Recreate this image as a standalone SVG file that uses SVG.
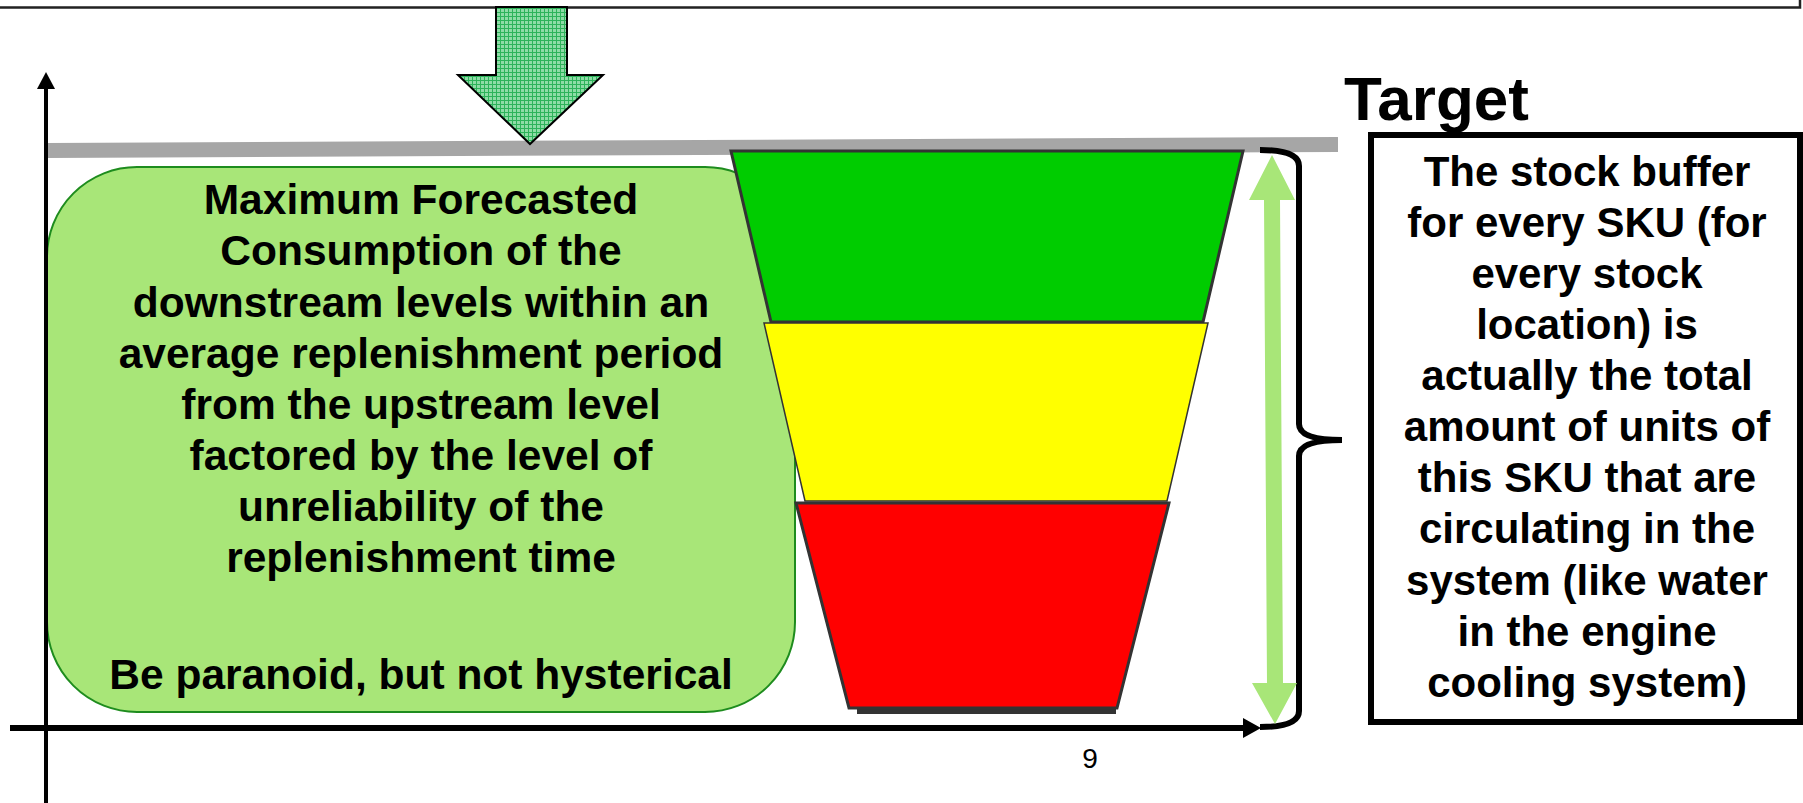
<svg xmlns="http://www.w3.org/2000/svg" width="1803" height="803" viewBox="0 0 1803 803">
<style>
.bt{font-family:"Liberation Sans",Arial,sans-serif;font-weight:bold;font-size:42.5px;fill:#000;text-anchor:middle}
.rt{font-family:"Liberation Sans",Arial,sans-serif;font-weight:bold;font-size:42px;fill:#000;text-anchor:middle}
.axis{stroke:#000;fill:none}
.seg{stroke:#333;stroke-width:3;stroke-linejoin:miter}
</style>
<defs>
<pattern id="hatch" width="4" height="4" patternUnits="userSpaceOnUse">
<rect width="4" height="4" fill="#8EDCA6"/>
<rect width="4" height="1" fill="#2DB35A"/>
<rect width="1" height="4" fill="#2DB35A"/>
</pattern>
</defs>
<rect width="1803" height="803" fill="#fff"/>
<polyline points="0,7.5 1800,7.5 1800,0" fill="none" stroke="#222" stroke-width="2.5"/>
<line x1="47" y1="150.5" x2="1338" y2="144.5" stroke="#A6A6A6" stroke-width="15"/>
<g id="forecast-box">
<rect x="47" y="167" width="748" height="545" rx="90" ry="90" fill="#A8E678" stroke="#1E8C1E" stroke-width="2"/>
<text class="bt" x="421" y="214">Maximum Forecasted</text>
<text class="bt" x="421" y="265">Consumption of the</text>
<text class="bt" x="421" y="317">downstream levels within an</text>
<text class="bt" x="421" y="368">average replenishment period</text>
<text class="bt" x="421" y="419">from the upstream level</text>
<text class="bt" x="421" y="470">factored by the level of</text>
<text class="bt" x="421" y="521">unreliability of the</text>
<text class="bt" x="421" y="572">replenishment time</text>
<text class="bt" x="421" y="689">Be paranoid, but not hysterical</text>
</g>
<g id="buffer-funnel">
<line x1="857" y1="711" x2="1116" y2="711" stroke="#333" stroke-width="6"/>
<polygon class="seg" points="731,151 1243,151 1203,322 771,322" fill="#00CC00"/>
<polygon points="764,323 1208,323 1167,501 805,501" fill="#FFFF00" stroke="#333" stroke-width="1.5"/>
<polygon class="seg" points="796,503 1169,503 1117,708 849,708" fill="#FF0000"/>
</g>
<g id="target-label">
<text x="1344" y="120" font-family="'Liberation Sans',Arial,sans-serif" font-weight="bold" font-size="62">Target</text>
</g>
<g id="target-box">
<rect x="1371" y="135" width="429" height="587" fill="#fff" stroke="#000" stroke-width="6"/>
<text class="rt" x="1587" y="186">The stock buffer</text>
<text class="rt" x="1587" y="237">for every SKU (for</text>
<text class="rt" x="1587" y="288">every stock</text>
<text class="rt" x="1587" y="339">location) is</text>
<text class="rt" x="1587" y="390">actually the total</text>
<text class="rt" x="1587" y="441">amount of units of</text>
<text class="rt" x="1587" y="492">this SKU that are</text>
<text class="rt" x="1587" y="543">circulating in the</text>
<text class="rt" x="1587" y="595">system (like water</text>
<text class="rt" x="1587" y="646">in the engine</text>
<text class="rt" x="1587" y="697">cooling system)</text>
</g>
<g id="brace">
<path d="M1260,150 Q1299,150 1299,166 L1299,424 Q1299,440 1342,440 Q1299,440 1299,456 L1299,711 Q1299,727 1260,727" fill="none" stroke="#000" stroke-width="6"/>
</g>
<g id="page-number">
<text x="1090" y="768" font-family="'Liberation Sans',Arial,sans-serif" font-size="28" text-anchor="middle">9</text>
</g>
<g id="connectors">
<line class="axis" x1="46" y1="803" x2="46" y2="86" stroke-width="4"/>
<polygon points="46,72 55,89 37,89" fill="#000"/>
<line class="axis" x1="10" y1="728" x2="1246" y2="728" stroke-width="6"/>
<polygon points="1261,728 1243,718 1243,738" fill="#000"/>
<polygon points="496,7 567,7 567,75 603,75 530,144 458,75 496,75" fill="url(#hatch)" stroke="#000" stroke-width="2" stroke-linejoin="miter"/>
<polygon points="1272,155 1295,200 1280,200 1283,683 1297,683 1275,724 1252,683 1267,683 1264,200 1249,200" fill="#A8E678"/>
</g>
</svg>
